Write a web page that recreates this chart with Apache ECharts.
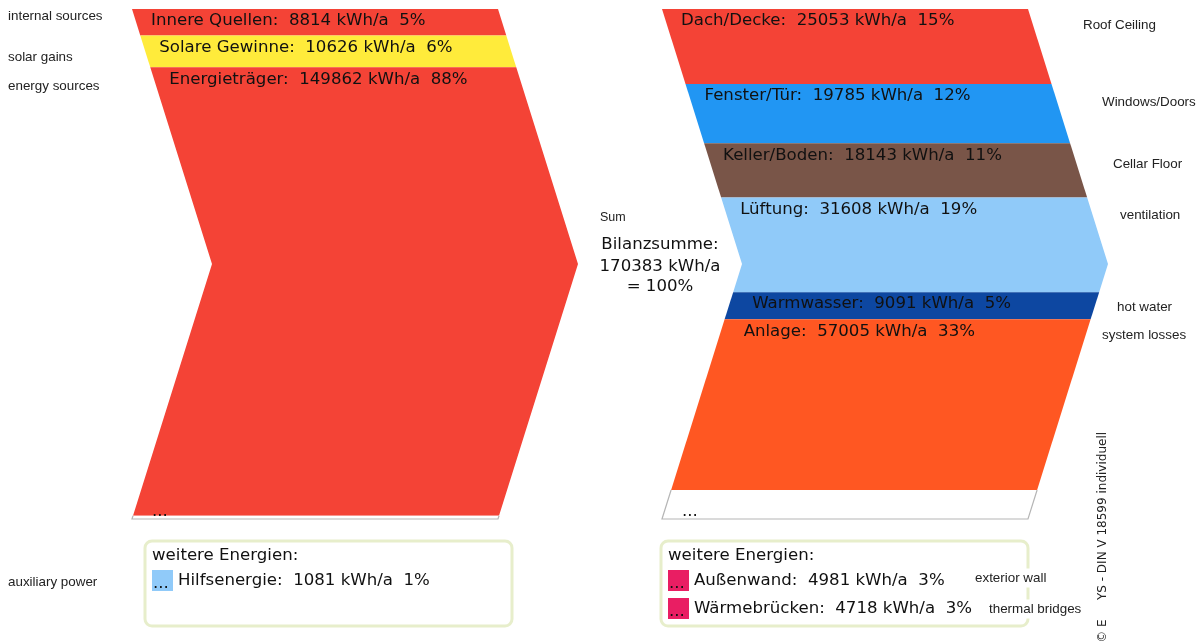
<!DOCTYPE html>
<html>
<head>
<meta charset="utf-8">
<script src="https://cdn.jsdelivr.net/npm/echarts@6/dist/echarts.min.js"></script>
<style>html,body{margin:0;padding:0;background:#fff}#c{width:1200px;height:644px}</style>
</head>
<body>
<div id="c"></div>
<script>
// ---------- DATA ----------
const sideCategories = ['Quellen', 'Verluste'];
const sourceNames = ['Innere Quellen', 'Solare Gewinne', 'Energieträger'];
const sourceValues = [8814, 10626, 149862];
const sourceLabelsEn = ['internal sources', 'solar gains', 'energy sources'];
const extraSourceNames = ['Hilfsenergie'];
const extraSourceValues = [1081];
const extraSourceLabelsEn = ['auxiliary power'];
const sinkNames = ['Dach/Decke', 'Fenster/Tür', 'Keller/Boden', 'Lüftung', 'Warmwasser', 'Anlage'];
const sinkValues = [25053, 19785, 18143, 31608, 9091, 57005];
const sinkLabelsEn = ['Roof Ceiling', 'Windows/Doors', 'Cellar Floor', 'ventilation', 'hot water', 'system losses'];
const extraSinkNames = ['Außenwand', 'Wärmebrücken'];
const extraSinkValues = [4981, 4718];
const extraSinkLabelsEn = ['exterior wall', 'thermal bridges'];

// ---------- STYLE ----------
const sourceColors = ['#f44336', '#ffeb3b', '#f44336'];
const sinkColors = ['#f44336', '#2196f3', '#795548', '#90caf9', '#0d47a1', '#ff5722'];
const extraSourceColors = ['#90caf9'];
const extraSinkColors = ['#e91e63', '#e91e63'];
const BODY_W = 366, INDENT = 80;
const FONT = 'DejaVu Sans';
const FS = 16.6;
const SMALL = 'Liberation Sans';

const sum = a => a.reduce((s, v) => s + v, 0);
const TOTAL = sum(sourceValues) + sum(extraSourceValues);
const pct = v => Math.round(v / TOTAL * 100);
const fmt = (n, v) => n + ':  ' + v + ' kWh/a  ' + pct(v) + '%';

// rows: [side, start, end, kind(0 main / 1 extra), index]
const rows = [];
function pushSide(side, vals, extras) {
  let acc = 0;
  vals.forEach((v, i) => { rows.push([side, acc, acc + v, 0, i]); acc += v; });
  const ex = sum(extras);
  rows.push([side, acc, acc + ex, 1, 0]);
}
pushSide(0, sourceValues, extraSourceValues);
pushSide(1, sinkValues, extraSinkValues);

function renderItem(params, api) {
  const side = api.value(0), v0 = api.value(1), v1 = api.value(2), kind = api.value(3), idx = api.value(4);
  const p0 = api.coord([side, v0]), p1 = api.coord([side, v1]);
  const top = api.coord([side, 0])[1], bot = api.coord([side, TOTAL])[1];
  const mid = (top + bot) / 2, half = (bot - top) / 2;
  const cx = p0[0];
  const xl = y => cx - BODY_W / 2 + INDENT * (1 - Math.abs(y - mid) / half);
  const xr = y => xl(y) + BODY_W;
  const y0 = p0[1], y1 = p1[1];
  const spans = y0 < mid && y1 > mid;
  const pts = [[xl(y0), y0], [xr(y0), y0]];
  if (spans) pts.push([xr(mid), mid]);
  pts.push([xr(y1), y1], [xl(y1), y1]);
  if (spans) pts.push([xl(mid), mid]);
  const children = [];
  if (kind === 0) {
    const names = side === 0 ? sourceNames : sinkNames;
    const vals = side === 0 ? sourceValues : sinkValues;
    const cols = side === 0 ? sourceColors : sinkColors;
    children.push({ type: 'polygon', shape: { points: pts }, style: { fill: cols[idx], stroke: null } });
    children.push({ type: 'text', x: xl(y0) + 19, y: y0 + 12,
      style: { text: fmt(names[idx], vals[idx]), font: FS + 'px "' + FONT + '"', fill: '#111', verticalAlign: 'middle', align: 'left' } });
  } else {
    children.push({ type: 'polygon', shape: { points: pts }, style: { fill: '#fff', stroke: null } });
    const edge = [[xr(y0), y0], [xr(y1), y1], [xl(y1), y1], [xl(y0), y0]];
    children.push({ type: 'polyline', shape: { points: edge }, style: { stroke: '#b5b5b5', lineWidth: 1.2, fill: null } });
    children.push({ type: 'text', x: xl(y1) + 20, y: y1 + 1,
      style: { text: '...', font: FS + 'px "' + FONT + '"', fill: '#111', verticalAlign: 'bottom', align: 'left' } });
  }
  return { type: 'group', children };
}

// ---------- annotations ----------
const txt = (x, y, text, size, family, extra) => ({
  type: 'text', x, y, silent: true,
  style: Object.assign({ text, font: size + 'px "' + family + '"', fill: '#222', verticalAlign: 'middle', align: 'left' }, extra || {})
});

const graphics = [];
const leftLabelPos = [[8, 16], [8, 57], [8, 86]];
sourceLabelsEn.forEach((t, i) => graphics.push(txt(leftLabelPos[i][0], leftLabelPos[i][1], t, 13.4, SMALL)));
graphics.push(txt(8, 582, extraSourceLabelsEn[0], 13.4, SMALL));
const rightLabelPos = [[1083, 25], [1102, 102], [1113, 164], [1120, 215], [1117, 307], [1102, 335]];
sinkLabelsEn.forEach((t, i) => graphics.push(txt(rightLabelPos[i][0], rightLabelPos[i][1], t, 13.4, SMALL)));
graphics.push(txt(600, 218, 'Sum', 12.5, SMALL));
graphics.push(txt(660, 245, 'Bilanzsumme:', FS, FONT, { align: 'center', fill: '#111' }));
graphics.push(txt(660, 267, TOTAL + ' kWh/a', FS, FONT, { align: 'center', fill: '#111' }));
graphics.push(txt(660, 287, '= 100%', FS, FONT, { align: 'center', fill: '#111' }));
[[145, 541], [661, 541]].forEach(([x, y]) => graphics.push({
  type: 'rect', shape: { x, y, width: 367, height: 85, r: 7 }, silent: true,
  style: { fill: '#fff', stroke: '#e7eecb', lineWidth: 3 }
}));
graphics.push(txt(152, 556, 'weitere Energien:', FS, FONT, { fill: '#111' }));
graphics.push(txt(668, 556, 'weitere Energien:', FS, FONT, { fill: '#111' }));
const marker = (x, y, color) => {
  graphics.push({ type: 'rect', shape: { x, y, width: 21, height: 21 }, silent: true, style: { fill: color } });
  graphics.push(txt(x + 1, y + 22, '...', FS, FONT, { fill: '#111', verticalAlign: 'bottom' }));
};
extraSourceNames.forEach((n, i) => {
  const y = 570 + i * 28;
  marker(152, y, extraSourceColors[i]);
  graphics.push(txt(178, y + 11, fmt(n, extraSourceValues[i]), FS, FONT, { fill: '#111' }));
});
extraSinkNames.forEach((n, i) => {
  const y = 570 + i * 28;
  marker(668, y, extraSinkColors[i]);
  graphics.push(txt(694, y + 11, fmt(n, extraSinkValues[i]), FS, FONT, { fill: '#111' }));
});
const exPos = [[973, 578], [987, 609]];
extraSinkLabelsEn.forEach((t, i) => graphics.push(txt(exPos[i][0], exPos[i][1], t, 13.4, SMALL,
  { backgroundColor: '#fff', padding: [3, 2, 3, 2] })));
graphics.push({ type: 'text', x: 1103, y: 516, rotation: Math.PI / 2, silent: true,
  style: { text: 'YS - DIN V 18599 individuell', font: '12px "' + FONT + '"', fill: '#222', align: 'center', verticalAlign: 'middle' } });
graphics.push({ type: 'text', x: 1103, y: 631, rotation: Math.PI / 2, silent: true,
  style: { text: '© E', font: '12px "' + FONT + '"', fill: '#222', align: 'center', verticalAlign: 'middle' } });

const chart = echarts.init(document.getElementById('c'));
chart.setOption({
  animation: false,
  backgroundColor: '#fff',
  grid: { left: 50, width: 1060, top: 9, height: 510 },
  xAxis: { type: 'category', data: sideCategories, show: false },
  yAxis: { type: 'value', inverse: true, min: 0, max: TOTAL, show: false },
  series: [{
    type: 'custom', coordinateSystem: 'cartesian2d', renderItem, clip: false,
    encode: { x: 0, y: [1, 2] }, data: rows
  }],
  graphic: graphics
});
</script>
</body>
</html>
